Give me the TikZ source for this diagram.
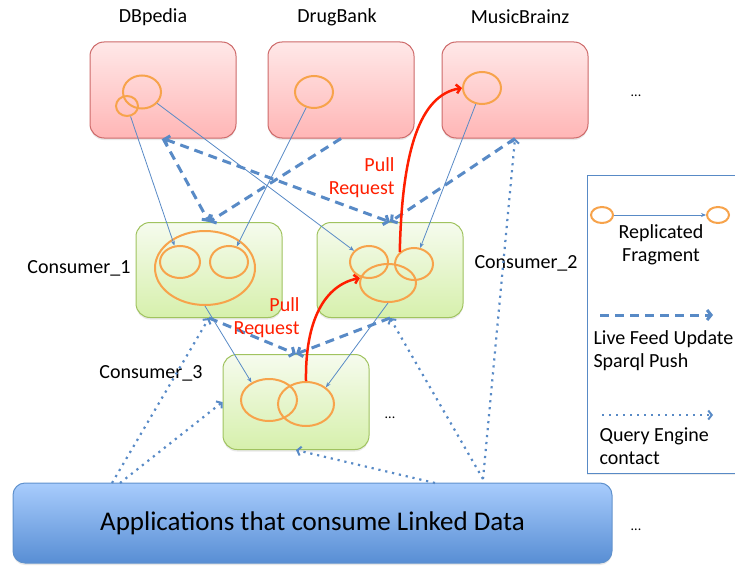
\documentclass[tikz,border=0pt]{standalone}
\usepackage{fontspec}
\setmainfont{Carlito}
\usetikzlibrary{shapes.geometric,arrows.meta,shadows}
\definecolor{pinktop}{RGB}{255,232,232}
\definecolor{pinkbot}{RGB}{255,182,182}
\definecolor{pinkline}{RGB}{205,105,105}
\definecolor{greentop}{RGB}{246,251,238}
\definecolor{greenbot}{RGB}{214,240,172}
\definecolor{greenline}{RGB}{160,195,95}
\definecolor{apptop}{RGB}{168,204,252}
\definecolor{appbot}{RGB}{88,142,212}
\definecolor{appline}{RGB}{95,145,205}
\definecolor{fragorange}{RGB}{247,163,75}
\definecolor{linkblue}{RGB}{88,138,198}
\definecolor{pullred}{RGB}{255,30,0}

\begin{document}
\begin{tikzpicture}[x=1pt,y=-1pt,
    srcbox/.style={draw=pinkline,line width=1pt,rounded corners=14pt,top color=pinktop,bottom color=pinkbot,
        minimum width=146pt,minimum height=96pt,drop shadow={opacity=.18,shadow xshift=0pt,shadow yshift=-2pt}},
    conbox/.style={srcbox,draw=greenline,top color=greentop,bottom color=greenbot,minimum height=95pt},
    appbox/.style={draw=appline,line width=1pt,rounded corners=12pt,top color=apptop,bottom color=appbot,
        minimum width=599pt,minimum height=80pt,font=\fontsize{27}{32}\selectfont,
        drop shadow={opacity=.18,shadow xshift=0pt,shadow yshift=-2pt}},
    legbox/.style={draw=linkblue,line width=.8pt,fill=white,minimum width=158pt,minimum height=298pt,
        drop shadow={opacity=.15,shadow xshift=0pt,shadow yshift=-2pt}},
    frag/.style={ellipse,draw=fragorange,line width=2pt,inner sep=0pt},
    repl/.style={draw=linkblue,line width=.8pt,-{Stealth[length=5pt,width=4pt]}},
    feed/.style={draw=linkblue,line width=3pt,dash pattern=on 9pt off 6pt,-{Straight Barb[length=4pt,width=10pt]}},
    feedboth/.style={feed,{Straight Barb[length=4pt,width=10pt]}-{Straight Barb[length=4pt,width=10pt]}},
    query/.style={draw=linkblue,line width=2.2pt,dash pattern=on 2.2pt off 4.8pt,
        -{Straight Barb[length=3.5pt,width=9pt,line width=2pt]}},
    pull/.style={draw=pullred,line width=2.5pt,-{Straight Barb[length=4pt,width=9pt]}},
    lbl/.style={font=\fontsize{20}{23}\selectfont},
    pulllbl/.style={lbl,text=pullred,align=right,anchor=east},
    dots/.style={font=\fontsize{14}{16}\selectfont}]
\useasboundingbox (0,0) rectangle (735,567);

\node[srcbox] (db) at (163,90) {};
\node[srcbox] (dg) at (341,90) {};
\node[srcbox] (mb) at (515,90) {};
\node[lbl] (dbl) at (153,17) {DBpedia};
\node[lbl] (dgl) at (337,17) {DrugBank};
\node[lbl] (mbl) at (520,17) {MusicBrainz};
\node[dots] (dt1) at (636,96) {...};

\node[conbox] (c1) at (209,270) {};
\node[conbox] (c2) at (390,270) {};
\node[conbox] (c3) at (296,402) {};
\node[lbl,anchor=east] (c1l) at (134,268) {Consumer\_1};
\node[lbl,anchor=west] (c2l) at (471,263) {Consumer\_2};
\node[lbl] (c3l) at (151,373) {Consumer\_3};
\node[dots] (dt2) at (390,418) {...};

\node[appbox] (apps) at (312.5,523) {Applications that consume Linked Data};
\node[dots] (dt3) at (636,530) {...};

\node[legbox,anchor=north west] (leg) at (587,175) {};

\node[frag,minimum width=38pt,minimum height=33pt] (db1) at (142,92) {};
\node[frag,minimum width=22pt,minimum height=20pt] (db2) at (127,106) {};
\node[frag,minimum width=38pt,minimum height=32pt] (dg1) at (314,92) {};
\node[frag,minimum width=38pt,minimum height=32pt] (mb1) at (482,88) {};
\node[frag,minimum width=100pt,minimum height=74pt] (c1o) at (205,268) {};
\node[frag,minimum width=40pt,minimum height=32pt] (c1a) at (180,262) {};
\node[frag,minimum width=38pt,minimum height=32pt] (c1b) at (229,262) {};
\node[frag,minimum width=38pt,minimum height=32pt] (c2a) at (369,262) {};
\node[frag,minimum width=56pt,minimum height=38pt] (c2b) at (388,283) {};
\node[frag,minimum width=38pt,minimum height=32pt] (c2c) at (414,264) {};
\node[frag,minimum width=56pt,minimum height=42pt] (c3a) at (269,400) {};
\node[frag,minimum width=56pt,minimum height=44pt] (c3b) at (306,404) {};

\draw[repl] (db2) -- (c1a);
\draw[repl] (db1) -- (c2a);
\draw[repl] (dg1) -- (c1b);
\draw[repl] (mb1) -- (c2c);
\draw[repl] (c1o.south) -- (c3a.135);
\draw[repl] (c2b.south) -- (c3b.40);

\draw[feed] (db.south) -- (c1.north);
\draw[feed] (dg.south) -- (c1.north);
\draw[feedboth] (db.south) -- (c2.north);
\draw[feed] (mb.south) -- (c2.north);
\draw[feed] (c1.south) -- (c3.north);
\draw[feed] (c2.south) -- (c3.north);

\coordinate (q1) at (112,483);
\coordinate (q2) at (120,483);
\coordinate (q3) at (435,483);
\coordinate (q4) at (483,479);
\draw[query] (q1) -- (c1.south);
\draw[query] (q2) -- (c3.west);
\draw[query] (q3) -- (c3.south);
\draw[query] (q4) -- (c2.south);
\draw[query] (q4) -- (mb.south);

\draw[pull] (c2c.140) .. controls (402,150) and (420,95) .. (mb1.west);
\draw[pull] (c3b.north) .. controls (305,320) and (325,285) .. (c2b.170);
\node[pulllbl] (pr1) at (398,178) {Pull\\Request};
\node[pulllbl] (pr2) at (303,318) {Pull\\Request};

\node[frag,minimum width=22pt,minimum height=16pt] (lg1) at (602,215) {};
\node[frag,minimum width=22pt,minimum height=16pt] (lg2) at (718,215) {};
\draw[repl] (lg1) -- (lg2);
\node[lbl,align=center] (lgt1) at (661,245) {Replicated\\Fragment};
\coordinate (lf1) at (600,315);
\coordinate (lf2) at (713,315);
\draw[feed] (lf1) -- (lf2);
\node[lbl,align=left,anchor=west] (lgt2) at (590,351) {Live Feed Update\\Sparql Push};
\coordinate (lq1) at (602,415);
\coordinate (lq2) at (713,415);
\draw[query] (lq1) -- (lq2);
\node[lbl,align=left,anchor=west] (lgt3) at (596,446) {Query Engine\\contact};
\end{tikzpicture}
\end{document}
